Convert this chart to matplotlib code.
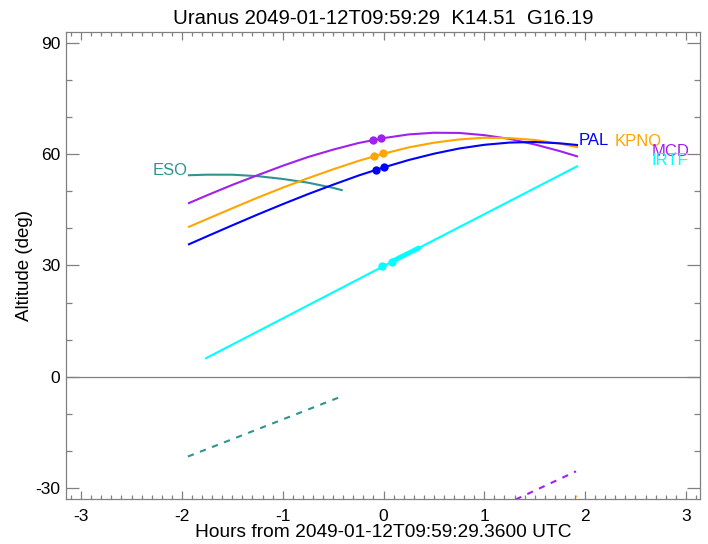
import matplotlib
matplotlib.use("Agg")
import matplotlib.pyplot as plt
from matplotlib.ticker import MultipleLocator

plt.rcParams['font.family'] = ['Liberation Sans', 'DejaVu Sans']
plt.rcParams['axes.unicode_minus'] = False

# Hours from reference time
t_main = [-1.93, -1.75, -1.5, -1.25, -1.0, -0.75, -0.5, -0.25, 0.0, 0.25, 0.5, 0.75, 1.0, 1.25, 1.5, 1.75, 1.92]
pal_alt = [35.7, 37.85, 40.8, 43.7, 46.5, 49.2, 51.75, 54.2, 56.4, 58.4, 60.1, 61.5, 62.5, 63.1, 63.25, 62.9, 62.45]
kpno_alt = [40.4, 42.5, 45.4, 48.25, 50.95, 53.5, 55.9, 58.15, 60.1, 61.8, 63.07, 63.95, 64.4, 64.3, 63.8, 62.8, 61.9]
mcd_alt = [46.8, 48.9, 51.7, 54.3, 56.85, 59.2, 61.2, 62.97, 64.3, 65.3, 65.75, 65.7, 65.1, 64.1, 62.6, 60.8, 59.4]

t_eso = [-1.93, -1.75, -1.5, -1.25, -1.0, -0.75, -0.5, -0.415]
eso_alt = [54.3, 54.45, 54.44, 54.06, 53.3, 52.3, 50.9, 50.3]

t_irtf = [-1.76, -1.0, 0.0, 1.0, 1.92]
irtf_alt = [5.0, 15.7, 29.8, 43.8, 56.7]
t_irtf_thick = [0.08, 0.35]
irtf_thick_alt = [31.0, 34.7]

# dashed (sun) curves
t_eso_sun = [-1.94, -0.415]
eso_sun_alt = [-21.5, -5.3]
t_mcd_sun = [1.31, 1.91]
mcd_sun_alt = [-33.1, -25.5]
t_kpno_sun = [1.80, 1.92]
kpno_sun_alt = [-34.0, -32.2]

# markers
pal_mk_t = [-0.077, 0.005]
pal_mk_a = [55.7, 56.5]
kpno_mk_t = [-0.09, -0.008]
kpno_mk_a = [59.5, 60.2]
mcd_mk_t = [-0.107, -0.028]
mcd_mk_a = [63.7, 64.3]
irtf_mk_t = [-0.012, 0.08]
irtf_mk_a = [29.9, 31.0]

c_pal = '#0000ff'
c_kpno = '#ffa500'
c_mcd = '#a020f0'
c_irtf = '#00ffff'
c_eso = '#2e9490'
axis_gray = '#808080'

fig = plt.figure(figsize=(7.08, 5.44), dpi=100)
ax = fig.add_axes([66/708, 1-499/544, (700-66)/708, (499-32)/544])

lw = 1.5
ax.axhline(0, color=axis_gray, lw=0.9)

ax.plot(t_eso, eso_alt, color=c_eso, lw=lw)
ax.plot(t_main, mcd_alt, color=c_mcd, lw=lw)
ax.plot(t_main, kpno_alt, color=c_kpno, lw=lw)
ax.plot(t_main, pal_alt, color=c_pal, lw=lw)
ax.plot(t_irtf, irtf_alt, color=c_irtf, lw=lw)
ax.plot(t_irtf_thick, irtf_thick_alt, color=c_irtf, lw=3.5, solid_capstyle='round')

ax.plot(t_eso_sun, eso_sun_alt, color=c_eso, lw=lw, dashes=(3, 3.2))
ax.plot(t_mcd_sun, mcd_sun_alt, color=c_mcd, lw=lw, dashes=(3, 3.2))
ax.plot(t_kpno_sun, kpno_sun_alt, color=c_kpno, lw=lw, dashes=(3, 3.2))

ms = 6
ax.plot(mcd_mk_t, mcd_mk_a, 'o', color=c_mcd, ms=ms, mec='none')
ax.plot(kpno_mk_t, kpno_mk_a, 'o', color=c_kpno, ms=ms, mec='none')
ax.plot(pal_mk_t, pal_mk_a, 'o', color=c_pal, ms=ms, mec='none')
ax.plot(irtf_mk_t, irtf_mk_a, 'o', color=c_irtf, ms=ms, mec='none')

fs = 12
ax.text(1.94, 63.7, 'PAL', color=c_pal, fontsize=fs, ha='left', va='center')
ax.text(2.29, 63.5, 'KPNO', color=c_kpno, fontsize=fs, ha='left', va='center')
ax.text(2.66, 60.8, 'MCD', color=c_mcd, fontsize=fs, ha='left', va='center')
ax.text(2.66, 58.4, 'IRTF', color=c_irtf, fontsize=fs, ha='left', va='center')
ax.text(-1.94, 55.7, 'ESO', color=c_eso, fontsize=fs, ha='right', va='center')

ax.set_xlim(-3.15, 3.14)
ax.set_ylim(-32.95, 92.9)
ax.xaxis.set_major_locator(MultipleLocator(1))
ax.xaxis.set_minor_locator(MultipleLocator(0.1))
ax.yaxis.set_major_locator(MultipleLocator(30))
ax.yaxis.set_minor_locator(MultipleLocator(10))

for s in ax.spines.values():
    s.set_color(axis_gray)
    s.set_linewidth(0.9)
ax.tick_params(which='both', direction='in', top=True, right=True, color=axis_gray, width=0.9, labelsize=12.5)
ax.tick_params(axis='x', which='major', length=6, pad=7)
ax.tick_params(axis='x', which='minor', length=3)
ax.tick_params(axis='y', which='major', length=9.5, pad=4)
ax.tick_params(axis='y', which='minor', length=4)

ax.set_xlabel('Hours from 2049-01-12T09:59:29.3600 UTC', fontsize=13.8, labelpad=0)
ax.set_ylabel('Altitude (deg)', fontsize=13.5, labelpad=2)
ax.set_title('Uranus 2049-01-12T09:59:29  K14.51  G16.19', fontsize=14.7, pad=6)

fig.savefig('out.png', dpi=100)
